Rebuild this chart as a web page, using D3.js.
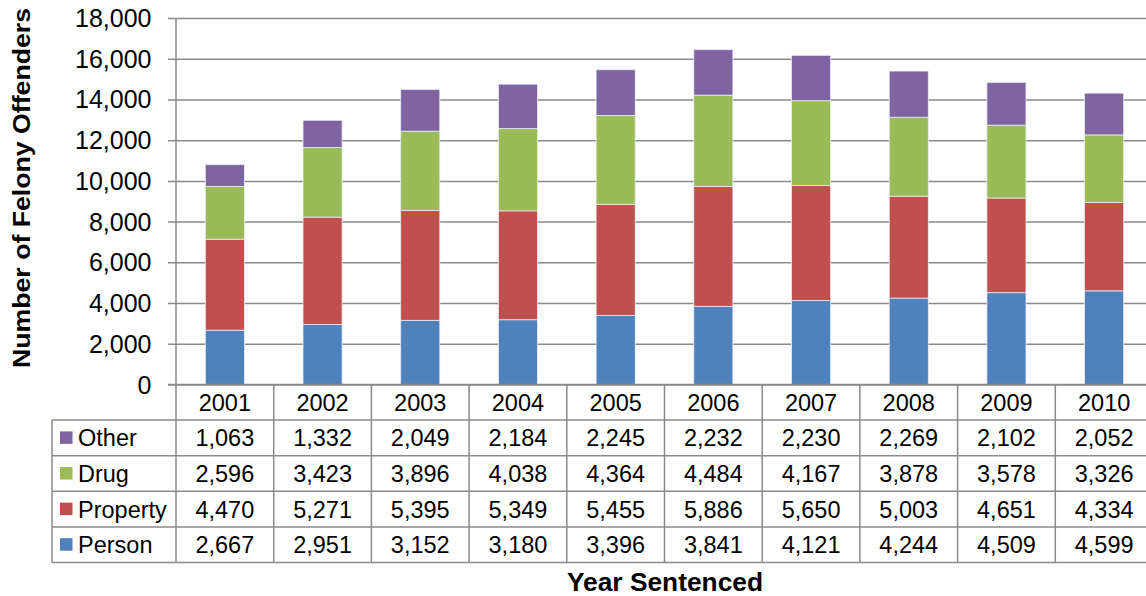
<!DOCTYPE html>
<html>
<head>
<meta charset="utf-8">
<script src="https://cdn.jsdelivr.net/npm/d3@7"></script>
<style>
  body { margin: 0; background: #fff; }
  text { font-family: "Liberation Sans", Arial, sans-serif; fill: #000; }
</style>
</head>
<body>
<div id="chart"></div>
<script>
// data
var years = ["2001", "2002", "2003", "2004", "2005", "2006", "2007", "2008", "2009", "2010"];
var seriesNames = ["Person", "Property", "Drug", "Other"];
var person   = [2667, 2951, 3152, 3180, 3396, 3841, 4121, 4244, 4509, 4599];
var property = [4470, 5271, 5395, 5349, 5455, 5886, 5650, 5003, 4651, 4334];
var drug     = [2596, 3423, 3896, 4038, 4364, 4484, 4167, 3878, 3578, 3326];
var other    = [1063, 1332, 2049, 2184, 2245, 2232, 2230, 2269, 2102, 2052];
var yTicks = [0, 2000, 4000, 6000, 8000, 10000, 12000, 14000, 16000, 18000];

var colors = {Person: "#4F81BD", Property: "#C0504D", Drug: "#9BBB59", Other: "#8064A2"};
var values = {Person: person, Property: property, Drug: drug, Other: other};

var svgWidth = 1146;
var svgHeight = 596;

var plot = {left: 176, right: 1153, top: 18, bottom: 384.5};
var tableLeft = 52;
var rowH = 35.6;
var gridColor = "#8a8a8a";
var tableFont = "23.5px";

var svg = d3.select("#chart")
  .append("svg")
  .attr("width", svgWidth)
  .attr("height", svgHeight);

var rows = years.map(function(y, i) {
  var r = {year: y};
  seriesNames.forEach(function(s) { r[s] = values[s][i]; });
  return r;
});

var stacked = d3.stack().keys(seriesNames)(rows);

var x = d3.scaleBand()
  .domain(years)
  .range([plot.left, plot.right])
  .paddingInner(0.6)
  .paddingOuter(0.3);

var xCol = d3.scaleBand()
  .domain(years)
  .range([plot.left, plot.right]);

var y = d3.scaleLinear()
  .domain([0, 18000])
  .range([plot.bottom, plot.top]);

// gridlines (with the little tick stubs left of the axis)
var yAxis = svg.append("g")
  .attr("transform", `translate(${plot.right}, 0)`);

yAxis.call(d3.axisLeft(y).tickValues(yTicks).tickSize(plot.right - plot.left + 8).tickFormat(""));
yAxis.select(".domain").remove();
yAxis.selectAll("line").attr("stroke", gridColor).attr("stroke-width", 1.5);

svg.append("g").selectAll("text")
  .data(yTicks)
  .enter()
  .append("text")
  .attr("x", 151.5)
  .attr("y", d => y(d))
  .attr("dy", "0.36em")
  .attr("text-anchor", "end")
  .style("font-size", "25px")
  .text(d => d3.format(",")(d));

// stacked bars
svg.append("g").selectAll("g")
  .data(stacked)
  .enter()
  .append("g")
  .attr("fill", d => colors[d.key])
  .selectAll("rect")
  .data(d => d)
  .enter()
  .append("rect")
  .attr("x", d => x(d.data.year))
  .attr("width", x.bandwidth())
  .attr("y", d => y(d[1]))
  .attr("height", d => y(d[0]) - y(d[1]))
  .attr("stroke", "#e6ecf5")
  .attr("stroke-width", 0.8);

// data table
var tableTop = plot.bottom;
var tableBottom = tableTop + rowH * 5;
var lines = svg.append("g")
  .attr("stroke", gridColor)
  .attr("stroke-width", 1.5);

lines.append("line")
  .attr("x1", plot.left).attr("x2", plot.left)
  .attr("y1", plot.top).attr("y2", tableBottom);

lines.selectAll(".col")
  .data(years)
  .enter()
  .append("line")
  .attr("x1", d => xCol(d) + xCol.bandwidth())
  .attr("x2", d => xCol(d) + xCol.bandwidth())
  .attr("y1", tableTop)
  .attr("y2", tableBottom);

lines.append("line")
  .attr("x1", 168).attr("x2", plot.right)
  .attr("y1", tableTop).attr("y2", tableTop);
d3.range(1, 6).forEach(function(i) {
  lines.append("line")
    .attr("x1", tableLeft).attr("x2", plot.right)
    .attr("y1", tableTop + rowH * i).attr("y2", tableTop + rowH * i);
});
lines.append("line")
  .attr("x1", tableLeft).attr("x2", tableLeft)
  .attr("y1", tableTop + rowH).attr("y2", tableBottom);

// header row
svg.append("g").selectAll("text")
  .data(years)
  .enter()
  .append("text")
  .attr("x", d => xCol(d) + xCol.bandwidth() / 2)
  .attr("y", tableTop + rowH / 2)
  .attr("dy", "0.36em")
  .attr("text-anchor", "middle")
  .style("font-size", tableFont)
  .text(d => d);

var tableOrder = ["Other", "Drug", "Property", "Person"];
tableOrder.forEach(function(s, r) {
  var cy = tableTop + rowH * (r + 1) + rowH / 2;
  svg.append("rect")
    .attr("x", 60)
    .attr("y", cy - 6.5)
    .attr("width", 12.5)
    .attr("height", 12.5)
    .attr("fill", colors[s]);
  svg.append("text")
    .attr("x", 78)
    .attr("y", cy)
    .attr("dy", "0.36em")
    .style("font-size", tableFont)
    .text(s);
  svg.append("g").selectAll("text")
    .data(values[s])
    .enter()
    .append("text")
    .attr("x", (d, i) => xCol(years[i]) + xCol.bandwidth() / 2)
    .attr("y", cy)
    .attr("dy", "0.36em")
    .attr("text-anchor", "middle")
    .style("font-size", tableFont)
    .text(d => d3.format(",")(d));
});

// axis titles
svg.append("text")
  .attr("transform", "translate(30, 188) rotate(-90)")
  .attr("text-anchor", "middle")
  .attr("textLength", 360)
  .attr("lengthAdjust", "spacingAndGlyphs")
  .style("font-size", "24px")
  .style("font-weight", "bold")
  .text("Number of Felony Offenders");

svg.append("text")
  .attr("x", 665)
  .attr("y", 591)
  .attr("text-anchor", "middle")
  .attr("textLength", 196)
  .attr("lengthAdjust", "spacingAndGlyphs")
  .style("font-size", "25px")
  .style("font-weight", "bold")
  .text("Year Sentenced");
</script>
</body>
</html>
